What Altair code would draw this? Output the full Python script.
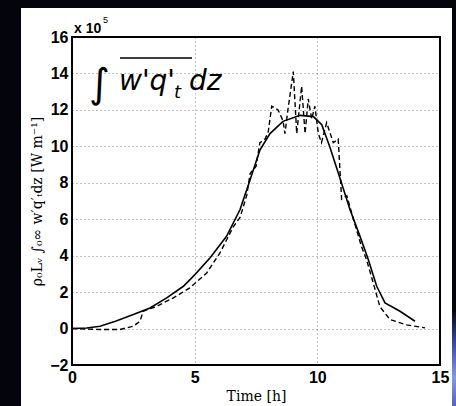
import altair as alt
import pandas as pd

# Solid line (time [h], value x1e5)
solid_t = [0.0, 0.6, 1.14, 1.8, 2.5, 3.18, 3.86, 4.54, 5.01, 5.63, 6.3, 6.85, 7.26, 7.66, 8.07, 8.6, 9.3, 9.84, 10.18, 10.5, 10.9, 11.33, 11.74, 12.08, 12.42, 12.76, 13.37, 13.98]
solid_v = [0.0, 0.03, 0.13, 0.42, 0.77, 1.13, 1.68, 2.32, 2.96, 3.88, 5.06, 6.53, 8.17, 9.8, 10.7, 11.37, 11.7, 11.63, 11.19, 10.0, 8.35, 6.53, 5.06, 3.78, 2.32, 1.41, 0.95, 0.4]

# Dashed line
dash_t = [0.0, 1.14, 1.96, 2.5, 2.77, 2.9, 3.45, 4.13, 4.8, 5.49, 6.03, 6.58, 6.85, 7.12, 7.26, 7.5, 7.66, 7.87, 8.0, 8.14, 8.4, 8.6, 8.68, 8.8, 9.02, 9.16, 9.36, 9.5, 9.63, 9.77, 9.9, 10.04, 10.17, 10.38, 10.65, 10.85, 10.99, 11.2, 11.47, 11.8, 12.0, 12.28, 12.55, 12.96, 13.64, 14.39]
dash_v = [0.0, -0.05, -0.05, 0.13, 0.4, 0.95, 1.22, 1.68, 2.23, 3.05, 4.15, 5.6, 6.1, 7.3, 8.5, 8.9, 10.2, 10.4, 10.8, 12.2, 12.0, 11.4, 10.7, 12.0, 14.1, 10.7, 13.3, 10.7, 12.6, 11.5, 12.2, 10.7, 10.2, 11.3, 10.2, 10.4, 7.1, 7.3, 6.0, 4.5, 3.8, 2.5, 1.2, 0.5, 0.2, 0.04]

x_ticks = [0, 5, 10, 15]
y_ticks = [-2, 0, 2, 4, 6, 8, 10, 12, 14, 16]

solid_df = pd.DataFrame({"t": solid_t, "v": solid_v})
dash_df = pd.DataFrame({"t": dash_t, "v": dash_v})
one = pd.DataFrame({"a": [0]})

W, H = 368, 328
L, T = 72, 37
DARK = "#03040c"

xs = alt.Scale(domain=[0, 15], nice=False, zero=False)
ys = alt.Scale(domain=[-2, 16], nice=False, zero=False)

xaxis = alt.Axis(values=x_ticks, title="Time [h]", titleFontSize=14, titlePadding=4, labelPadding=4,
                 labelFlush=False, labelOverlap=False)
yaxis = alt.Axis(values=y_ticks, tickCount=10, title="ρ₀Lᵥ ∫₀∞ w′q′ₜdz  [W m⁻¹]", titleFontSize=14,
                 titlePadding=5, labelPadding=4, labelOverlap=False, labelFlush=False)

def band(x1, x2, y1, y2, color=DARK):
    return alt.Chart(one).mark_rect(color=color).encode(
        x=alt.value(x1 - L), x2=alt.value(x2 - L), y=alt.value(y1 - T), y2=alt.value(y2 - T))

left_band = band(0, 21, 0, 406)
top_band = band(0, 456, 0, 8)
right_band = band(452, 456, 0, 406)
glow = band(452, 456, 310, 406, color=alt.LinearGradient(
    gradient="linear", x1=0, y1=0, x2=0, y2=1,
    stops=[alt.GradientStop(color=DARK, offset=0), alt.GradientStop(color="#2f4fa8", offset=0.35),
           alt.GradientStop(color="#7f9be0", offset=0.7), alt.GradientStop(color="#4a68c0", offset=1)]))

solid = alt.Chart(solid_df).mark_line(color="black", strokeWidth=1.6).encode(
    x=alt.X("t:Q", scale=xs, axis=xaxis), y=alt.Y("v:Q", scale=ys, axis=yaxis))
dashed = alt.Chart(dash_df).mark_line(color="black", strokeWidth=1.4, strokeDash=[5, 3]).encode(
    x=alt.X("t:Q", scale=xs, axis=xaxis), y=alt.Y("v:Q", scale=ys, axis=yaxis))

frame = alt.Chart(one).mark_rect(fill=None, stroke="black", strokeWidth=2).encode(
    x=alt.value(0), x2=alt.value(W), y=alt.value(0), y2=alt.value(H))

def txt(s, x, y, size, weight="normal", style="normal", font="DejaVu Sans", align="left"):
    return alt.Chart(one).mark_text(text=s, fontSize=size, fontWeight=weight, fontStyle=style, font=font,
                                    align=align, baseline="alphabetic", color="black").encode(
        x=alt.value(x - L), y=alt.value(y - T))

exp1 = txt("x 10", 74, 33, 14, weight="bold", font="Liberation Sans")
exp2 = txt("5", 103, 23, 9, font="Liberation Sans")

integ = txt("∫", 89, 97, 40)
wq = txt("w'q'", 119, 90, 28, style="italic")
sub = txt("t", 174, 98, 18, style="italic")
dz = txt("dz", 189, 90, 28, style="italic")
overline = alt.Chart(one).mark_rule(color="black", strokeWidth=1.5).encode(
    x=alt.value(120 - L), x2=alt.value(192 - L), y=alt.value(58 - T))

chart = alt.layer(solid, dashed, frame, exp1, exp2, integ, wq, sub, dz, overline,
                  left_band, top_band, right_band, glow).properties(
    width=W, height=H, background="white",
    padding={"left": L, "top": T, "right": 456 - L - W, "bottom": 406 - T - H},
    autosize=alt.AutoSizeParams(type="none"),
).configure_view(stroke=None, fill="white").configure_axis(
    labelFont="Liberation Sans", labelFontWeight="bold", labelFontSize=16, labelColor="black",
    labelOverlap=False, labelBound=False, ticks=False, domain=False,
    grid=True, gridColor="#808080", gridDash=[1, 3], gridWidth=1,
    titleColor="black", titleFont="DejaVu Serif", titleFontWeight="normal")

chart.save("out.html", embed_options={"renderer": "svg", "actions": False})
